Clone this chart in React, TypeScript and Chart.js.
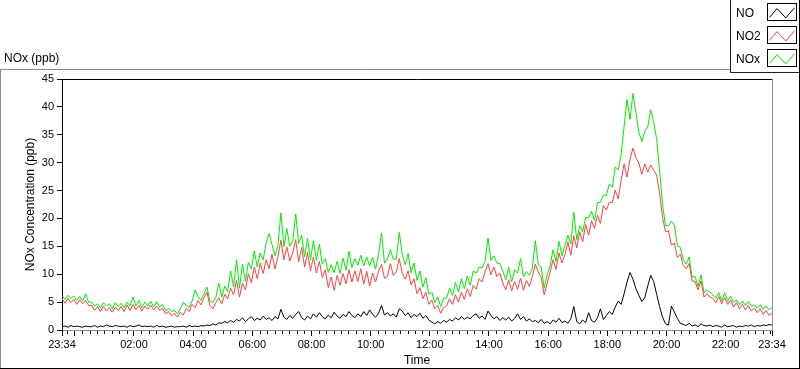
import React, { useEffect, useRef } from 'react';
import { Chart, registerables } from 'chart.js';

Chart.register(...registerables);

// ---- data (sampled every 6 minutes starting 23:34, 24 h span) ----
const START_CLOCK_MIN = 23 * 60 + 34;
const SAMPLE_STEP_MIN = 6;
const SPAN_MIN = 1440;

const SERIES_NAMES = ['NO', 'NO2', 'NOx'];
const SERIES_COLORS = ['#000000', '#FF4040', '#00EE00'];

const NO_VALUES = [
  0.6, 0.7, 0.5, 0.8, 0.6, 0.7, 0.6, 0.5, 0.7, 0.6,
  0.6, 0.8, 0.5, 0.7, 0.6, 0.9, 0.7, 0.6, 0.8, 0.7,
  0.6, 0.7, 0.5, 0.8, 0.6, 0.7, 0.9, 0.6, 0.7, 0.6,
  0.7, 0.5, 0.8, 0.6, 0.7, 0.5, 0.6, 0.7, 0.5, 0.6,
  0.6, 0.7, 0.5, 0.8, 0.6, 0.7, 0.6, 0.8, 0.7, 0.9,
  0.8, 1.1, 0.9, 1.3, 1.2, 1.5, 1.3, 1.7, 1.4, 1.9,
  1.6, 2.2, 1.5, 2.0, 2.4, 1.7, 2.1, 1.8, 2.5, 1.9,
  2.2, 1.7, 2.4, 2.0, 3.7, 2.3, 1.9, 2.6, 2.1, 2.8,
  3.3, 2.2, 1.8, 2.5, 2.0, 2.9, 2.3, 3.1, 2.4, 2.0,
  2.7, 2.2, 3.2, 2.5, 2.1, 2.8, 2.4, 3.3, 2.6, 2.2,
  2.9, 2.4, 3.3, 2.6, 3.6, 2.8, 2.3, 3.0, 4.4, 2.7,
  3.1, 2.5, 2.9, 2.3, 3.8, 3.4, 2.6, 3.1, 2.2, 2.8,
  2.4, 3.0, 2.1, 2.6, 1.8, 1.4, 1.1, 1.5, 1.2, 1.7,
  1.4, 1.9, 1.6, 2.2, 1.8, 2.4, 1.9, 2.3, 2.0, 2.6,
  2.9, 2.1, 2.5, 1.9, 3.4, 2.6, 2.0, 2.4, 1.7, 2.2,
  1.8, 2.3, 1.6, 2.1, 2.9, 1.9, 2.4, 1.6, 2.0, 1.5,
  1.7, 1.3, 1.9, 1.2, 1.5, 1.1, 1.8, 1.4, 2.1, 1.3,
  1.6, 1.2, 2.0, 4.2, 1.5, 1.1, 1.8, 1.3, 3.1, 1.7,
  1.4, 2.2, 3.8, 1.9, 2.6, 3.3, 2.8, 4.1, 5.2, 4.6,
  6.5, 8.6, 10.3, 9.1, 7.4, 6.2, 5.1, 5.8, 7.9, 9.8,
  8.7, 6.4, 4.2, 2.3, 1.1, 0.9, 4.3, 3.2, 2.1, 1.2,
  1.0, 0.8, 1.2, 0.7, 0.9, 0.6, 1.1, 0.8, 0.7, 0.9,
  0.6, 0.8, 0.7, 0.5, 0.9, 0.6, 0.7, 0.8, 0.5, 0.7,
  0.6, 0.8, 0.7, 0.9, 0.6, 0.8, 0.7, 0.9, 0.8, 1.0,
  0.9,
];

const NO2_VALUES = [
  5.6, 4.8, 5.7, 4.9, 5.5, 4.6, 5.4, 4.7, 5.3, 4.4,
  4.4, 3.5, 4.2, 3.3, 4.3, 3.4, 4.0, 3.2, 4.1, 3.5,
  4.2, 3.3, 4.5, 3.5, 4.6, 3.6, 4.4, 3.4, 4.3, 3.7,
  4.5, 3.6, 4.3, 3.5, 3.9, 2.9, 3.3, 2.6, 3.0, 2.3,
  3.2, 2.7, 3.9, 3.3, 4.6, 4.0, 5.3, 4.5, 5.8, 6.8,
  4.4, 3.8, 4.9, 5.8, 4.7, 6.4, 5.6, 7.5, 6.3, 8.9,
  5.9, 8.4, 7.2, 10.1, 8.5, 11.3, 9.2, 12.0, 10.1, 12.6,
  11.0, 13.6, 10.9, 13.2, 16.1, 12.6, 14.9, 12.4, 13.8, 16.2,
  12.2, 14.8, 11.3, 13.9, 10.6, 13.1, 10.2, 12.3, 9.4, 10.8,
  7.6, 9.5, 7.1, 9.8, 8.0, 10.1, 8.3, 10.8, 8.6, 10.6,
  8.7, 11.0, 8.2, 10.5, 7.9, 10.2, 8.6, 10.6, 11.8, 9.3,
  9.6, 11.9, 9.8, 10.4, 12.8, 10.2, 9.1, 10.6, 8.1, 9.2,
  6.5, 7.6, 5.6, 6.8, 4.6, 5.4, 3.8, 4.4, 3.0, 4.0,
  4.3, 5.6, 4.6, 6.3, 5.0, 6.8, 5.5, 7.4, 6.0, 8.0,
  7.3, 9.2, 8.6, 10.4, 11.9, 9.9, 11.3, 9.6, 10.2, 8.4,
  7.2, 9.0, 7.0, 8.7, 7.3, 9.3, 7.1, 8.9, 7.8, 9.6,
  11.8, 10.4, 9.4, 6.3, 8.4, 10.4, 12.6, 10.9, 13.8, 12.0,
  13.5, 15.8, 13.4, 16.9, 14.7, 17.6, 15.8, 18.9, 17.0, 19.6,
  18.2, 20.6, 19.1, 22.3, 21.5, 22.9, 22.8, 25.1, 23.5, 26.8,
  29.8, 27.4, 30.6, 32.6, 30.9, 29.9, 27.9, 29.8, 28.3, 29.6,
  28.6, 27.8, 24.5, 20.2, 17.6, 17.8, 15.2, 15.6, 13.0, 13.6,
  11.6, 11.0, 11.9, 8.8, 8.7, 7.2, 8.8, 5.9, 6.5, 5.9,
  5.7, 4.9, 6.0, 4.7, 5.8, 4.6, 5.4, 4.1, 4.9, 3.8,
  4.6, 3.6, 4.4, 3.4, 3.9, 3.1, 3.8, 2.8, 3.5, 2.6,
  3.1,
];

const NOX_VALUES = [
  6.2, 5.5, 6.2, 5.7, 6.1, 5.3, 6.0, 5.2, 6.5, 5.0,
  5.0, 4.3, 4.7, 4.0, 4.9, 4.3, 4.7, 3.8, 4.9, 4.2,
  4.8, 4.0, 5.0, 4.3, 5.9, 4.3, 5.3, 4.0, 5.0, 4.3,
  5.2, 4.1, 5.1, 4.1, 4.6, 3.4, 3.9, 3.3, 3.5, 2.9,
  3.8, 5.0, 4.4, 4.1, 5.2, 7.2, 5.9, 5.3, 6.5, 7.7,
  5.2, 4.9, 5.8, 8.4, 5.9, 7.9, 6.9, 10.6, 7.7, 12.6,
  7.5, 11.8, 8.7, 12.1, 10.9, 14.2, 11.3, 13.8, 12.6, 15.6,
  17.3, 15.3, 13.3, 15.2, 21.0, 14.9, 18.2, 15.0, 15.9, 20.8,
  15.5, 17.0, 13.1, 16.4, 12.6, 16.0, 12.5, 15.4, 11.8, 12.8,
  10.3, 11.7, 10.3, 12.3, 10.1, 12.9, 10.7, 14.1, 11.2, 12.8,
  11.6, 13.4, 11.5, 13.1, 11.5, 13.0, 10.9, 13.6, 17.4, 12.0,
  12.7, 14.4, 12.7, 12.7, 17.5, 13.6, 11.7, 13.7, 10.3, 12.0,
  8.9, 10.6, 7.7, 9.4, 6.4, 6.8, 4.9, 5.9, 4.2, 5.7,
  5.7, 7.5, 6.2, 8.5, 6.8, 9.2, 7.4, 9.7, 8.0, 10.6,
  10.2, 11.3, 11.1, 12.3, 16.5, 12.5, 13.3, 12.0, 11.9, 10.6,
  9.0, 11.3, 8.6, 10.8, 10.2, 12.8, 9.5, 10.5, 9.8, 11.1,
  16.0, 11.7, 11.3, 7.5, 9.9, 11.5, 14.4, 12.3, 15.9, 13.3,
  15.1, 17.0, 15.4, 21.1, 16.2, 18.7, 17.6, 20.2, 20.1, 21.3,
  19.6, 22.8, 22.9, 24.2, 24.1, 26.2, 25.6, 29.2, 28.7, 31.4,
  36.5, 41.3, 37.8, 42.4, 39.0, 35.4, 33.8, 35.6, 36.4, 39.5,
  37.3, 34.2, 28.7, 22.5, 18.7, 18.7, 19.5, 18.8, 15.1, 14.8,
  12.6, 11.8, 13.1, 9.5, 9.6, 7.8, 9.9, 6.7, 7.2, 6.8,
  6.3, 5.7, 6.7, 5.2, 6.7, 5.2, 6.1, 4.9, 5.4, 4.5,
  5.2, 4.4, 5.1, 4.3, 4.5, 3.9, 4.5, 3.7, 4.3, 3.6,
  4.0,
];

const Y_MIN = 0;
const Y_MAX = 45;
const Y_STEP = 5;

// major x ticks (minutes after 23:34) and their labels
const X_TICK_OFFSETS = [0, 26, 146, 266, 386, 506, 626, 746, 866, 986, 1106, 1226, 1346, 1440];
const X_TICK_LABELS = ['23:34', '', '02:00', '04:00', '06:00', '08:00', '10:00', '12:00', '14:00', '16:00', '18:00', '20:00', '22:00', '23:34'];
const MINOR_TICK_MIN = 15;

const CHART_TITLE = 'NOx (ppb)';
const Y_TITLE = 'NOx Concentration (ppb)';
const X_TITLE = 'Time';

const FONT = 'Liberation Sans';

const toPoints = (vals: number[]) => vals.map((v, i) => ({ x: i * SAMPLE_STEP_MIN, y: v }));

const decorPlugin = {
  id: 'decor',
  beforeDraw(chart: any) {
    const ctx = chart.ctx;
    ctx.save();
    ctx.fillStyle = '#ffffff';
    ctx.fillRect(0, 0, chart.width, chart.height);
    ctx.restore();
  },
  afterDraw(chart: any) {
    const ctx = chart.ctx;
    const { left, right, top, bottom } = chart.chartArea;
    const xs = chart.scales.x;
    ctx.save();
    ctx.lineWidth = 1;

    // minor ticks on the x-axis (every quarter hour of clock time)
    ctx.strokeStyle = '#000';
    ctx.beginPath();
    const firstQuarter = (MINOR_TICK_MIN - (START_CLOCK_MIN % MINOR_TICK_MIN)) % MINOR_TICK_MIN;
    for (let t = firstQuarter; t < SPAN_MIN; t += MINOR_TICK_MIN) {
      if (X_TICK_OFFSETS.includes(t)) continue;
      const px = Math.round(xs.getPixelForValue(t)) + 0.5;
      ctx.moveTo(px, bottom + 1);
      ctx.lineTo(px, bottom + 4);
    }
    ctx.stroke();

    // plot frame: top black, right gray
    ctx.strokeStyle = '#000';
    ctx.beginPath();
    ctx.moveTo(left, Math.round(top) + 0.5);
    ctx.lineTo(right + 1, Math.round(top) + 0.5);
    ctx.stroke();
    ctx.strokeStyle = '#8c8c8c';
    ctx.beginPath();
    ctx.moveTo(Math.round(right) + 0.5, top);
    ctx.lineTo(Math.round(right) + 0.5, bottom + 1);
    ctx.stroke();

    // outer frame
    ctx.strokeStyle = '#8c8c8c';
    ctx.beginPath();
    ctx.moveTo(0, 69.5);
    ctx.lineTo(731, 69.5);
    ctx.moveTo(0.5, 69);
    ctx.lineTo(0.5, 368);
    ctx.stroke();
    ctx.strokeStyle = '#000';
    ctx.beginPath();
    ctx.moveTo(0, 368.5);
    ctx.lineTo(800, 368.5);
    ctx.moveTo(799.5, 0);
    ctx.lineTo(799.5, 369);
    ctx.stroke();

    // chart label
    ctx.fillStyle = '#000';
    ctx.font = `12px "${FONT}"`;
    ctx.textAlign = 'left';
    ctx.textBaseline = 'alphabetic';
    ctx.fillText(CHART_TITLE, 4, 62);

    // legend box
    ctx.fillStyle = '#fff';
    ctx.fillRect(731, 0, 68, 72);
    ctx.strokeStyle = '#222';
    ctx.beginPath();
    ctx.moveTo(730.5, 0);
    ctx.lineTo(730.5, 72.5);
    ctx.lineTo(800, 72.5);
    ctx.stroke();

    const rowY = [3, 26, 49];
    const baseY = [17, 40, 63];
    for (let k = 0; k < SERIES_NAMES.length; k++) {
      ctx.fillStyle = '#000';
      ctx.fillText(SERIES_NAMES[k], 736, baseY[k]);
      const bx = 767.5, by = rowY[k] + 0.5, bw = 29, bh = 17;
      ctx.strokeStyle = '#000';
      ctx.strokeRect(bx, by, bw, bh);
      ctx.strokeStyle = SERIES_COLORS[k];
      ctx.beginPath();
      ctx.moveTo(bx + 2, by + bh * 0.82);
      ctx.lineTo(bx + bw * 0.33, by + bh * 0.3);
      ctx.lineTo(bx + bw * 0.63, by + bh * 0.85);
      ctx.lineTo(bx + bw - 2, by + bh * 0.25);
      ctx.stroke();
    }
    ctx.restore();
  },
};

export default function App() {
  const ref = useRef<HTMLCanvasElement | null>(null);

  useEffect(() => {
    document.body.style.margin = '0';
    const canvas = ref.current;
    if (!canvas) return;
    const chart = new Chart(canvas, {
      type: 'line',
      data: {
        datasets: [
          { label: SERIES_NAMES[0], data: toPoints(NO_VALUES), borderColor: SERIES_COLORS[0], borderWidth: 1, pointRadius: 0, tension: 0, fill: false },
          { label: SERIES_NAMES[1], data: toPoints(NO2_VALUES), borderColor: SERIES_COLORS[1], borderWidth: 1, pointRadius: 0, tension: 0, fill: false },
          { label: SERIES_NAMES[2], data: toPoints(NOX_VALUES), borderColor: SERIES_COLORS[2], borderWidth: 1, pointRadius: 0, tension: 0, fill: false },
        ],
      },
      options: {
        responsive: false,
        animation: false,
        events: [],
        layout: { padding: { top: 79, right: 28, left: 0, bottom: 0 } },
        plugins: { legend: { display: false }, tooltip: { enabled: false } },
        scales: {
          x: {
            type: 'linear',
            min: 0,
            max: SPAN_MIN,
            afterFit: (s: any) => { s.height = 39; },
            afterBuildTicks: (s: any) => { s.ticks = X_TICK_OFFSETS.map((v) => ({ value: v })); },
            ticks: {
              autoSkip: false,
              maxRotation: 0,
              padding: 2,
              color: '#000',
              font: { family: FONT, size: 11 },
              callback: (v: any) => {
                const idx = X_TICK_OFFSETS.indexOf(Number(v));
                return idx >= 0 ? X_TICK_LABELS[idx] : '';
              },
            },
            grid: { drawOnChartArea: false, drawTicks: true, tickLength: 6, tickColor: '#000' },
            border: { display: true, color: '#8c8c8c', width: 1 },
            title: { display: true, text: X_TITLE, color: '#000', font: { family: FONT, size: 12 }, padding: { top: 0, bottom: 1 } },
          },
          y: {
            type: 'linear',
            min: Y_MIN,
            max: Y_MAX,
            afterFit: (s: any) => { s.width = 62; },
            ticks: { stepSize: Y_STEP, padding: 3, color: '#000', font: { family: FONT, size: 11 } },
            grid: { drawOnChartArea: false, drawTicks: true, tickLength: 5, tickColor: '#000' },
            border: { display: true, color: '#000', width: 1 },
            title: { display: true, text: Y_TITLE, color: '#000', font: { family: FONT, size: 12 }, padding: { top: 23, bottom: 0 } },
          },
        },
      },
      plugins: [decorPlugin],
    });
    return () => chart.destroy();
  }, []);

  return (
    <div style={{ position: 'absolute', left: 0, top: 0, width: 800, height: 369, background: '#fff' }}>
      <canvas ref={ref} width={800} height={369} style={{ display: 'block', width: 800, height: 369 }} />
    </div>
  );
}
